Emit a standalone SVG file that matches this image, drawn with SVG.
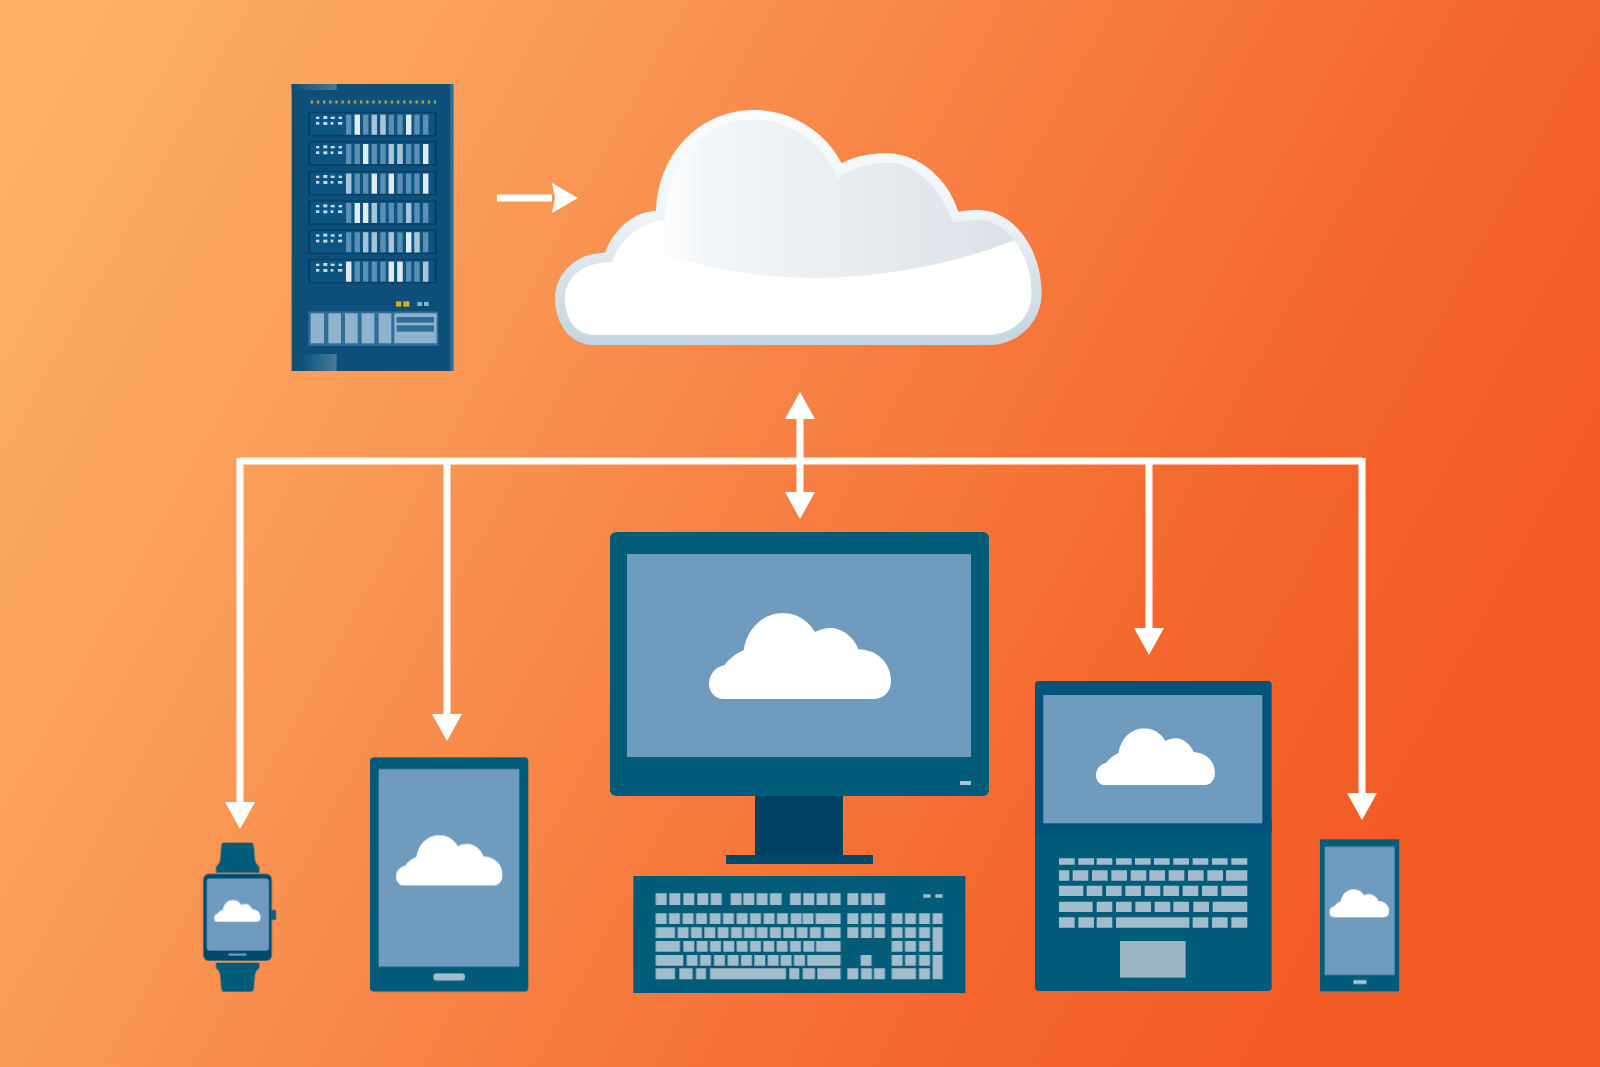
<svg xmlns="http://www.w3.org/2000/svg" xmlns:xlink="http://www.w3.org/1999/xlink" width="1600" height="1067" viewBox="0 0 1600 1067">
<style>
.teal{fill:#005b78}
.lid{fill:#00527a}
.scr{fill:#6e9bbe}
.key{fill:#a3bccb}
.wire{fill:none;stroke:#fff;stroke-width:7;stroke-linejoin:miter}
.sb{fill:#5b8fb4}
.hi{fill:#e3ebf2}
.mid{fill:#a9c3d7}
.sd{fill:#c6d8e6}
.pn{fill:#8fb2cd}
</style>
<defs>
<linearGradient id="bg" gradientUnits="userSpaceOnUse" x1="60" y1="40" x2="1450" y2="800">
<stop offset="0" stop-color="#fcb067"/>
<stop offset=".27" stop-color="#fa9c58"/>
<stop offset=".55" stop-color="#f77e42"/>
<stop offset=".82" stop-color="#f4642c"/>
<stop offset="1" stop-color="#f35a24"/>
</linearGradient>
<linearGradient id="cEdge" x1="0" y1="0" x2="0" y2="1">
<stop offset="0" stop-color="#fbfcfd"/><stop offset=".45" stop-color="#eff4f6"/><stop offset=".7" stop-color="#d7e3e9"/><stop offset="1" stop-color="#c3d5df"/>
</linearGradient>
<linearGradient id="cDome" gradientUnits="userSpaceOnUse" x1="340" y1="0" x2="1400" y2="0">
<stop offset="0" stop-color="#fff"/><stop offset=".15" stop-color="#f3f6f8"/><stop offset="1" stop-color="#dbe2e7"/>
</linearGradient>
<linearGradient id="stripe" x1="0" y1="0" x2="1" y2="0">
<stop offset="0" stop-color="#0a4f78"/><stop offset="1" stop-color="#4a7a9b"/>
</linearGradient>
<symbol id="mini" viewBox="0 0 357 171" preserveAspectRatio="none">
<path fill="#fff" d="M28 171C12 171 0 157 0 141C0 122 14 106 30 104C40 90 54 80 68 74C74 32 105 0 145 0C173 0 195 16 208 38C220 31 232 29 243 30C266 33 284 50 293 72C330 72 357 100 357 135C357 157 342 171 322 171Z"/>
</symbol>
<g id="row">
<rect x="85" y="-4" width="385" height="73" fill="#053f66"/>
<rect x="91" y="0" width="373" height="65" fill="#0c5580"/>
<rect class="sb" x="198" y="4" width="16" height="60"/><rect class="sb" x="224" y="4" width="16" height="60"/><rect class="sb" x="249" y="4" width="16" height="60"/><rect class="sb" x="275" y="4" width="16" height="60"/><rect class="sb" x="301" y="4" width="16" height="60"/><rect class="sb" x="326" y="4" width="16" height="60"/><rect class="sb" x="352" y="4" width="16" height="60"/><rect class="sb" x="378" y="4" width="16" height="60"/><rect class="sb" x="403" y="4" width="16" height="60"/><rect class="sb" x="429" y="4" width="16" height="60"/>
<rect class="sd" x="108" y="10" width="10" height="7"/><rect class="sd" x="130" y="8" width="12" height="9"/><rect class="sd" x="152" y="10" width="12" height="7"/><rect class="sd" x="176" y="10" width="10" height="7"/>
<rect class="sd" x="108" y="26" width="10" height="8"/><rect class="sd" x="130" y="26" width="12" height="9"/><rect class="sd" x="152" y="26" width="8" height="8"/><rect class="sd" x="174" y="26" width="13" height="8"/>
</g>
<marker id="head" viewBox="0 -16 27 32" refX="0" refY="0" markerWidth="27" markerHeight="32" markerUnits="userSpaceOnUse" orient="auto">
<path d="M0 -15L27 0L0 15Z" fill="#fff"/>
</marker>
<marker id="headS" viewBox="0 -16 27 32" refX="0" refY="0" markerWidth="27" markerHeight="32" markerUnits="userSpaceOnUse" orient="auto">
<path d="M0 -15L26 0L0 15L3 0Z" fill="#fff"/>
</marker>
<clipPath id="cInner"><path d="M165 735C110 735 75 690 75 625C75 565 130 515 215 518C240 450 300 395 375 390C380 210 500 88 640 88C750 88 850 160 893 265C940 230 990 218 1040 218C1130 218 1200 290 1240 400C1270 392 1300 388 1320 390C1400 395 1475 490 1475 610C1475 680 1420 735 1345 735Z"/></clipPath>
<filter id="soft" x="-2%" y="-2%" width="104%" height="104%"><feGaussianBlur stdDeviation="0.5"/></filter>
<filter id="softer" x="-2%" y="-2%" width="104%" height="104%"><feGaussianBlur stdDeviation="2"/></filter>
</defs>
<rect id="background" width="1600" height="1067" fill="url(#bg)"/>
<g filter="url(#soft)">
<g id="server" transform="translate(280 70) scale(.3333)" filter="url(#softer)">
<rect x="35" y="42" width="485" height="861" fill="#0a4f78"/>
<rect x="510" y="42" width="10" height="861" fill="#2f6d96"/>
<rect x="35" y="42" width="135" height="18" fill="url(#stripe)"/>
<rect x="60" y="852" width="110" height="51" fill="url(#stripe)"/>
<rect x="85" y="84" width="385" height="24" fill="#0c5580"/>
<path d="M92 96H468" stroke="#b9a23f" stroke-width="9" stroke-dasharray="7 11.5" fill="none"/>
<use xlink:href="#row" href="#row" y="130"/>
<use xlink:href="#row" href="#row" y="218"/>
<use xlink:href="#row" href="#row" y="307"/>
<use xlink:href="#row" href="#row" y="395"/>
<use xlink:href="#row" href="#row" y="483"/>
<use xlink:href="#row" href="#row" y="571"/>
<rect class="hi" x="224" y="134" width="16" height="60"/><rect class="mid" x="275" y="134" width="16" height="60"/><rect class="mid" x="301" y="134" width="16" height="60"/><rect class="hi" x="378" y="134" width="16" height="60"/>
<rect class="hi" x="249" y="222" width="16" height="60"/><rect class="mid" x="326" y="222" width="16" height="60"/><rect class="mid" x="352" y="222" width="16" height="60"/><rect class="hi" x="429" y="222" width="16" height="60"/>
<rect class="mid" x="198" y="311" width="16" height="60"/><rect class="hi" x="275" y="311" width="16" height="60"/><rect class="hi" x="326" y="311" width="16" height="60"/><rect class="hi" x="429" y="311" width="16" height="60"/>
<rect class="hi" x="224" y="399" width="16" height="60"/><rect class="hi" x="249" y="399" width="16" height="60"/><rect class="mid" x="275" y="399" width="16" height="60"/><rect class="mid" x="378" y="399" width="16" height="60"/>
<rect class="mid" x="249" y="487" width="16" height="60"/><rect class="mid" x="275" y="487" width="16" height="60"/><rect class="mid" x="326" y="487" width="16" height="60"/><rect class="hi" x="378" y="487" width="16" height="60"/><rect class="mid" x="403" y="487" width="16" height="60"/>
<rect class="hi" x="198" y="575" width="16" height="60"/><rect class="hi" x="326" y="575" width="16" height="60"/><rect class="hi" x="352" y="575" width="16" height="60"/><rect class="mid" x="429" y="575" width="16" height="60"/>
<rect x="348" y="694" width="16" height="16" fill="#e2a420"/><rect x="370" y="694" width="18" height="16" fill="#e2a420"/>
<rect x="412" y="696" width="14" height="12" fill="#8fb2cd"/><rect x="432" y="696" width="14" height="12" fill="#8fb2cd"/>
<rect x="85" y="724" width="390" height="104" fill="#2d6e98"/>
<rect class="pn" x="92" y="730" width="40" height="90"/><rect class="pn" x="145" y="730" width="38" height="90"/><rect class="pn" x="195" y="730" width="38" height="90"/><rect class="pn" x="245" y="730" width="38" height="90"/><rect class="pn" x="296" y="730" width="38" height="90"/>
<rect class="pn" x="343" y="730" width="127" height="90"/>
<rect x="350" y="741" width="112" height="17" fill="#2d6e98"/><rect x="350" y="766" width="112" height="19" fill="#2d6e98"/>
</g>
<g id="cloud" transform="translate(540 90) scale(.3333)">
<path fill="url(#cEdge)" d="M160 765C90 765 45 700 45 625C45 550 110 488 195 488C220 420 280 365 348 362C355 180 490 60 640 60C760 60 860 130 905 220C950 195 1000 190 1040 190C1140 190 1225 270 1255 365C1280 360 1300 360 1320 360C1425 365 1505 480 1505 610C1505 700 1430 765 1350 765Z"/>
<path fill="url(#cDome)" d="M165 735C110 735 75 690 75 625C75 565 130 515 215 518C240 450 300 395 375 390C380 210 500 88 640 88C750 88 850 160 893 265C940 230 990 218 1040 218C1130 218 1200 290 1240 400C1270 392 1300 388 1320 390C1400 395 1475 490 1475 610C1475 680 1420 735 1345 735Z"/>
<path clip-path="url(#cInner)" fill="#fff" d="M40 420C250 440 400 520 620 550C900 590 1200 540 1440 445L1520 420V760H40Z"/>
</g>
<g id="connectors">
<path class="wire" d="M497 198H552" marker-end="url(#headS)"/>
<path class="wire" d="M240 461H1362"/>
<path class="wire" d="M240 458V802" marker-end="url(#head)"/>
<path class="wire" d="M447 461V714" marker-end="url(#head)"/>
<path class="wire" d="M1149 461V628" marker-end="url(#head)"/>
<path class="wire" d="M1362 458V793" marker-end="url(#head)"/>
<path class="wire" d="M800 419V492" marker-end="url(#head)"/>
<path d="M800 392L815 419H785Z" fill="#fff"/>
</g>
<g id="desktop">
<rect class="teal" x="610" y="532" width="379" height="264" rx="6"/>
<rect class="scr" x="627" y="554" width="344" height="203"/>
<use xlink:href="#mini" href="#mini" x="709" y="613" width="182" height="86"/>
<rect x="960" y="781" width="11" height="4" fill="#a9c3d2"/>
<rect x="755" y="796" width="88" height="60" fill="#003f63"/>
<rect x="726" y="855" width="147" height="9" fill="#004a6d"/>
<g transform="translate(620 860) scale(.3333)">
<rect class="teal" x="40" y="48" width="995" height="349"/>
<path class="key" d="M107 100h33v35h-33zM148 100h33v35h-33zM190 100h33v35h-33zM232 100h33v35h-33zM272 100h33v35h-33zM332 100h33v35h-33zM370 100h33v35h-33zM410 100h33v35h-33zM450 100h35v35h-35zM510 100h33v35h-33zM550 100h33v35h-33zM590 100h33v35h-33zM630 100h32v35h-32zM682 100h33v35h-33zM723 100h33v35h-33zM762 100h33v35h-33z"/>
<path class="key" d="M910 103h22v10h-22zM946 103h22v10h-22z"/>
<path class="key" d="M107 160h33v32h-33zM147 160h33v32h-33zM188 160h33v32h-33zM228 160h33v32h-33zM269 160h33v32h-33zM309 160h33v32h-33zM350 160h33v32h-33zM390 160h33v32h-33zM431 160h33v32h-33zM471 160h33v32h-33zM512 160h33v32h-33zM548 160h33v32h-33zM587 160h75v32h-75z"/>
<path class="key" d="M107 202h58v32h-58zM173 202h33v32h-33zM213 202h33v32h-33zM253 202h33v32h-33zM293 202h33v32h-33zM333 202h33v32h-33zM372 202h33v32h-33zM410 202h33v32h-33zM450 202h33v32h-33zM490 202h33v32h-33zM530 202h33v32h-33zM570 202h33v32h-33zM612 202h50v32h-50z"/>
<path class="key" d="M107 243h73v32h-73zM190 243h33v32h-33zM230 243h33v32h-33zM270 243h33v32h-33zM310 243h33v32h-33zM350 243h33v32h-33zM390 243h33v32h-33zM430 243h33v32h-33zM470 243h33v32h-33zM510 243h33v32h-33zM550 243h33v32h-33zM588 243h74v32h-74z"/>
<path class="key" d="M107 285h83v32h-83zM200 285h33v32h-33zM240 285h33v32h-33zM282 285h33v32h-33zM323 285h33v32h-33zM363 285h33v32h-33zM403 285h33v32h-33zM443 285h33v32h-33zM482 285h33v32h-33zM522 285h33v32h-33zM562 285h100v32h-100z"/>
<path class="key" d="M107 325h58v33h-58zM178 325h40v33h-40zM228 325h30v33h-30zM270 325h228v33h-228zM508 325h30v33h-30zM548 325h37v33h-37zM592 325h70v33h-70z"/>
<path class="key" d="M682 160h33v32h-33zM723 160h33v32h-33zM762 160h33v32h-33zM682 202h33v32h-33zM723 202h33v32h-33zM762 202h33v32h-33zM722 285h33v32h-33zM682 325h33v33h-33zM723 325h33v33h-33zM762 325h33v33h-33z"/>
<path class="key" d="M815 160h33v32h-33zM855 160h33v32h-33zM897 160h33v32h-33zM938 160h30v32h-30zM815 202h33v32h-33zM855 202h33v32h-33zM897 202h33v32h-33zM938 202h30v73h-30zM815 243h33v32h-33zM855 243h33v32h-33zM897 243h33v32h-33zM815 285h33v32h-33zM855 285h33v32h-33zM897 285h33v32h-33zM938 285h30v73h-30zM815 325h73v33h-73zM897 325h33v33h-33z"/>
</g>
</g>
<g id="laptop" transform="translate(1030 670) scale(.3333)">
<rect class="teal" x="15" y="440" width="710" height="523" rx="12"/>
<rect class="lid" x="15" y="33" width="710" height="462" rx="12"/>
<rect class="scr" x="40" y="75" width="657" height="385"/>
<use xlink:href="#mini" href="#mini" x="198" y="175" width="357" height="171"/>
<path class="key" d="M87 565h47v19h-47zM145 565h47v19h-47zM200 565h47v19h-47zM258 565h47v19h-47zM315 565h47v19h-47zM372 565h47v19h-47zM430 565h47v19h-47zM488 565h47v19h-47zM546 565h47v19h-47zM604 565h48v19h-48z"/>
<path class="key" d="M87 601h31v31h-31zM128 601h47v31h-47zM186 601h47v31h-47zM244 601h47v31h-47zM302 601h47v31h-47zM358 601h47v31h-47zM416 601h47v31h-47zM474 601h47v31h-47zM532 601h47v31h-47zM588 601h64v31h-64z"/>
<path class="key" d="M87 647h73v31h-73zM170 647h47v31h-47zM228 647h47v31h-47zM286 647h47v31h-47zM344 647h47v31h-47zM400 647h47v31h-47zM458 647h47v31h-47zM516 647h47v31h-47zM574 647h78v31h-78z"/>
<path class="key" d="M87 695h101v31h-101zM200 695h47v31h-47zM258 695h47v31h-47zM316 695h47v31h-47zM374 695h47v31h-47zM430 695h47v31h-47zM490 695h47v31h-47zM548 695h104v31h-104z"/>
<path class="key" d="M87 742h47v31h-47zM145 742h47v31h-47zM200 742h47v31h-47zM258 742h220v31h-220zM488 742h47v31h-47zM546 742h47v31h-47zM604 742h48v31h-48z"/>
<rect x="270" y="813" width="197" height="110" fill="#9bb6c6"/>
</g>
<g id="phone" transform="translate(1030 670) scale(.3333)">
<rect class="teal" x="870" y="508" width="238" height="457"/>
<rect class="scr" x="884" y="530" width="210" height="385"/>
<use xlink:href="#mini" href="#mini" x="898" y="658" width="180" height="84"/>
<rect x="970" y="930" width="40" height="12" rx="3" fill="#a9c3d2"/>
</g>
<g id="tablet" transform="translate(190 740) scale(.3333)">
<rect class="teal" x="540" y="52" width="475" height="703" rx="12"/>
<rect class="scr" x="566" y="87" width="422" height="593"/>
<use xlink:href="#mini" href="#mini" x="618" y="285" width="320" height="152"/>
<rect x="730" y="700" width="95" height="22" rx="10" fill="#a3bccb"/>
</g>
<g id="watch" transform="translate(190 740) scale(.3333)">
<path class="teal" d="M100 308H184Q190 308 191 316L195 362Q197 372 208 380V398H78V380Q88 372 90 362L94 316Q95 308 100 308Z"/>
<path class="teal" d="M78 668H208V684Q197 692 195 702L191 746Q190 755 184 755H100Q95 755 94 746L90 702Q88 692 78 684Z"/>
<rect class="teal" x="245" y="510" width="13" height="30" rx="4"/>
<rect x="40" y="402" width="205" height="260" rx="16" fill="#004a6e"/>
<rect class="scr" x="50" y="415" width="187" height="217" rx="10"/>
<use xlink:href="#mini" href="#mini" x="72" y="480" width="140" height="66"/>
<rect x="115" y="640" width="55" height="7" rx="3" fill="#6f9cbf"/>
</g>
</g>
</svg>
